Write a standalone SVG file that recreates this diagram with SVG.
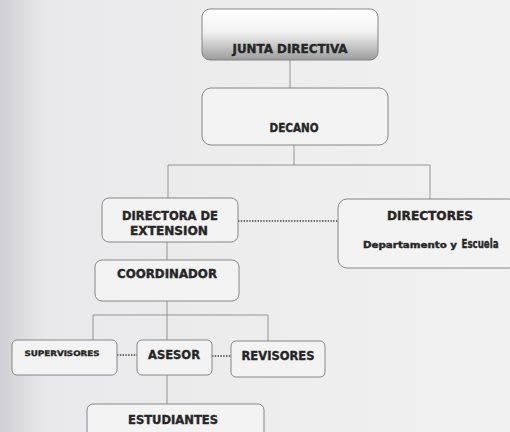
<svg xmlns="http://www.w3.org/2000/svg" width="510" height="432" viewBox="0 0 510 432">
<defs>
<linearGradient id="bg" x1="0" y1="0" x2="1" y2="0">
<stop offset="0" stop-color="#cfcfd3"/>
<stop offset="0.09" stop-color="#e9e9eb"/>
<stop offset="1" stop-color="#f1f1f1"/>
</linearGradient>
<linearGradient id="junta" x1="0" y1="0" x2="0" y2="1">
<stop offset="0" stop-color="#ffffff"/>
<stop offset="0.45" stop-color="#f2f2f2"/>
<stop offset="1" stop-color="#9c9c9c"/>
</linearGradient>
<style>
.box{fill:#f3f3f3;stroke:#7a7a7a;stroke-width:0.9}
.t{font-family:"DejaVu Sans Condensed","Liberation Sans Narrow","Liberation Sans",sans-serif;font-weight:bold;fill:#262626;stroke:#262626;stroke-width:0.35;text-anchor:middle}
.ln{stroke:#8a8a8a;stroke-width:0.9;fill:none}
.dot{stroke:#3a3a3a;stroke-width:1.3;stroke-dasharray:1.4 1.4;fill:none}
</style>
</defs>
<rect x="0" y="0" width="510" height="432" fill="url(#bg)"/>
<g id="connectors">
<line class="ln" x1="290" y1="60" x2="290" y2="88"/>
<line class="ln" x1="294" y1="145" x2="294" y2="165"/>
<line class="ln" x1="168" y1="165" x2="430" y2="165"/>
<line class="ln" x1="168" y1="165" x2="168" y2="198"/>
<line class="ln" x1="430" y1="165" x2="430" y2="199"/>
<line class="ln" x1="167" y1="242" x2="167" y2="260"/>
<line class="ln" x1="167" y1="301" x2="167" y2="340"/>
<line class="ln" x1="93" y1="315" x2="268" y2="315"/>
<line class="ln" x1="93" y1="315" x2="93" y2="340"/>
<line class="ln" x1="268" y1="315" x2="268" y2="341"/>
<line class="ln" x1="167" y1="375" x2="167" y2="404"/>
<line class="dot" x1="238" y1="221" x2="338" y2="221"/>
<line class="dot" x1="117" y1="355" x2="137" y2="355"/>
<line class="dot" x1="212" y1="356" x2="231" y2="356"/>
</g>
<g id="junta-directiva">
<rect x="202" y="9" width="176" height="51" rx="8" fill="url(#junta)" stroke="#7a7a7a" stroke-width="0.9"/>
<text class="t" x="290" y="53" font-size="12" textLength="115" lengthAdjust="spacingAndGlyphs">JUNTA DIRECTIVA</text>
</g>
<g id="decano">
<rect class="box" x="202" y="88" width="186" height="57" rx="9"/>
<text class="t" x="294" y="132" font-size="12" textLength="49" lengthAdjust="spacingAndGlyphs">DECANO</text>
</g>
<g id="directora">
<rect class="box" x="102" y="198" width="136" height="44" rx="7"/>
<text class="t" x="170" y="220" font-size="12" textLength="96" lengthAdjust="spacingAndGlyphs">DIRECTORA DE</text>
<text class="t" x="169" y="235" font-size="12" textLength="78" lengthAdjust="spacingAndGlyphs">EXTENSION</text>
</g>
<g id="directores">
<rect class="box" x="338" y="199" width="180" height="69" rx="9"/>
<text class="t" x="430" y="220" font-size="12" textLength="86" lengthAdjust="spacingAndGlyphs">DIRECTORES</text>
<text class="t" x="410" y="248" font-size="8.5" textLength="94" lengthAdjust="spacingAndGlyphs">Departamento y</text>
<text class="t" x="480" y="248" font-size="11.5" textLength="37" lengthAdjust="spacingAndGlyphs">Escuela</text>
</g>
<g id="coordinador">
<rect class="box" x="95" y="260" width="144" height="41" rx="7"/>
<text class="t" x="167" y="278" font-size="12" textLength="100" lengthAdjust="spacingAndGlyphs">COORDINADOR</text>
</g>
<g id="supervisores">
<rect class="box" x="12" y="340" width="105" height="35" rx="5"/>
<text class="t" x="62" y="356" font-size="7.5" textLength="75" lengthAdjust="spacingAndGlyphs">SUPERVISORES</text>
</g>
<g id="asesor">
<rect class="box" x="137" y="340" width="75" height="35" rx="5"/>
<text class="t" x="174" y="359" font-size="13" textLength="52" lengthAdjust="spacingAndGlyphs">ASESOR</text>
</g>
<g id="revisores">
<rect class="box" x="231" y="341" width="94" height="36" rx="5"/>
<text class="t" x="278" y="360" font-size="12" textLength="73" lengthAdjust="spacingAndGlyphs">REVISORES</text>
</g>
<g id="estudiantes">
<rect class="box" x="87" y="404" width="177" height="34" rx="6"/>
<text class="t" x="173" y="424" font-size="12" textLength="90" lengthAdjust="spacingAndGlyphs">ESTUDIANTES</text>
</g>
</svg>
